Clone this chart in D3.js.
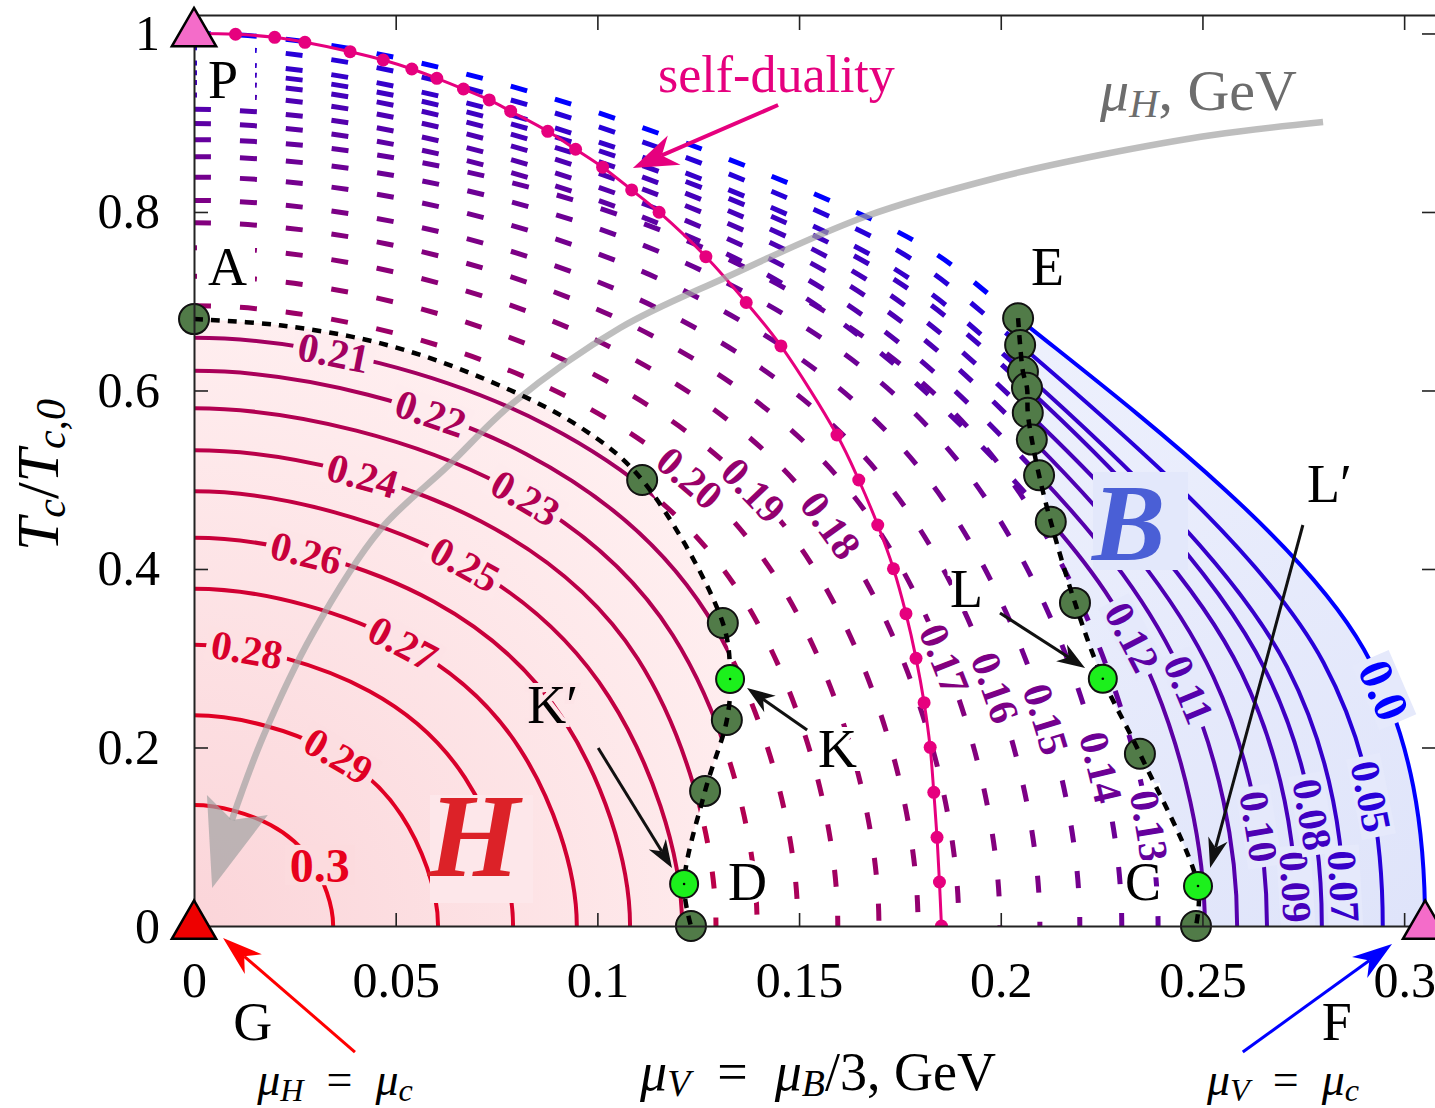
<!DOCTYPE html>
<html>
<head>
<meta charset="utf-8">
<script src="https://cdn.jsdelivr.net/npm/d3@7"></script>
<style>
  body { margin: 0; background: #fff; }
  svg { display: block; }
  text { font-family: "Liberation Serif", "DejaVu Serif", serif; }
</style>
</head>
<body>
<svg id="chart" width="1435" height="1108"></svg>
<script>
// contour levels (mu_H, GeV), innermost H curve first, B edge (0.0) last
const levels = [0.30, 0.29, 0.28, 0.27, 0.26, 0.25, 0.24, 0.23, 0.22, 0.21,
                0.20, 0.19, 0.18, 0.17, 0.16, 0.15, 0.14, 0.13,
                0.12, 0.11, 0.10, 0.09, 0.08, 0.07, 0.05, 0.00];
const levelZone = ["H","H","H","H","H","H","H","H","H","H",
                   "M","M","M","M","M","M","M","M",
                   "B","B","B","B","B","B","B","B"];
// where each contour meets the axes
const muAtT0 = [0.0345, 0.0605, 0.0791, 0.0949, 0.1081, 0.1210, 0.1294, 0.1396, 0.1497, 0.1596,
                0.1698, 0.1795, 0.1896, 0.1998, 0.2097, 0.2196, 0.2300, 0.2390,
                0.2506, 0.2586, 0.2660, 0.2734, 0.2796, 0.2853, 0.2947, 0.3052];
const tAtMu0 = [0.1355, 0.236, 0.315, 0.378, 0.435, 0.487, 0.533, 0.580, 0.622, 0.659,
                0.695, 0.728, 0.760, 0.788, 0.813, 0.839, 0.862, 0.881,
                0.899, 0.915, 0.931, 0.945, 0.956, 0.967, 0.984, 1.000];
// points along each contour (for B curves the lower point is its marker on the E-C line)
const muUpper = [0.0190, 0.0333, 0.0435, 0.0522, 0.0595, 0.0666, 0.0712, 0.0768, 0.0823, 0.0878,
                 0.0934, 0.0987, 0.1043, 0.1099, 0.1153, 0.1208, 0.1265, 0.1315,
                 0.1378, 0.1422, 0.1463, 0.1504, 0.1538, 0.1569, 0.1621, 0.1679];
const tUpper  = [0.1132, 0.1971, 0.2631, 0.3157, 0.3633, 0.4067, 0.4532, 0.4932, 0.5289, 0.5603,
                 0.5910, 0.6190, 0.6462, 0.6700, 0.6913, 0.7134, 0.7330, 0.7491,
                 0.7401, 0.7487, 0.7582, 0.7649, 0.7734, 0.7771, 0.7856, 0.7921];
const muLower = [0.0293, 0.0514, 0.0672, 0.0807, 0.0919, 0.1029, 0.1100, 0.1187, 0.1272, 0.1357,
                 0.1443, 0.1526, 0.1612, 0.1698, 0.1782, 0.1867, 0.1955, 0.2032,
                 0.2124, 0.2095, 0.2077, 0.2067, 0.2065, 0.2055, 0.2048, 0.2043];
const tLower  = [0.0714, 0.1243, 0.1659, 0.1991, 0.2292, 0.2565, 0.2994, 0.3258, 0.3494, 0.3702,
                 0.3904, 0.4089, 0.4269, 0.4426, 0.4567, 0.4713, 0.4842, 0.4949,
                 0.453, 0.505, 0.545, 0.575, 0.603, 0.621, 0.651, 0.681];
const muFoot  = [null, null, null, null, null, null, null, null, null, null,
                 null, null, null, null, null, null, null, null,
                 0.2381, 0.2457, 0.2527, 0.2597, 0.2656, 0.2710, 0.2800, 0.2900];
const tFoot   = [null, null, null, null, null, null, null, null, null, null,
                 null, null, null, null, null, null, null, null,
                 0.2697, 0.2745, 0.2793, 0.2835, 0.2868, 0.2901, 0.2952, 0.3100];

// contour labels
const labelText = ["0.3","0.29","0.28","0.27","0.26","0.25","0.24","0.23","0.22","0.21",
                   "0.20","0.19","0.18","0.17","0.16","0.15","0.14","0.13",
                   "0.12","0.11","0.10","0.09","0.08","0.07","0.05","0.0"];
const labelMu = [0.0312, 0.0362, 0.0131, 0.0515, 0.0279, 0.0684, 0.0420, 0.0829, 0.0589, 0.0344,
                 0.1231, 0.1399, 0.1587, 0.1882, 0.2000, 0.2122, 0.2250, 0.2362,
                 0.2304, 0.2448, 0.2638, 0.2734, 0.2757, 0.2861, 0.2900, 0.2950];
const labelT  = [0.0683, 0.1935, 0.3070, 0.3148, 0.4175, 0.4140, 0.5070, 0.4850, 0.5780, 0.6370,
                 0.5034, 0.4940, 0.4512, 0.3036, 0.2700, 0.2327, 0.1785, 0.1113,
                 0.3186, 0.2607, 0.1113, 0.0440, 0.1244, 0.0440, 0.1430, 0.2650];

// H boundary (A ... D), B boundary (E ... C)
const hEdgeMu = [0, 0.0213, 0.0461, 0.0709, 0.0957, 0.1111, 0.1311, 0.1329, 0.1321, 0.1267, 0.1215, 0.1232];
const hEdgeT  = [0.680, 0.673, 0.653, 0.615, 0.559, 0.4997, 0.3395, 0.2767, 0.2308, 0.1513, 0.0471, 0];
const hEdgeDot = ["dark", "", "", "", "", "dark", "dark", "lime", "dark", "dark", "lime", "dark"];
const bEdgeMu = [0.2043, 0.2048, 0.2055, 0.2065, 0.2067, 0.2077, 0.2095, 0.2124, 0.2184, 0.2253, 0.2345, 0.2489, 0.2484];
const bEdgeT  = [0.681, 0.651, 0.621, 0.603, 0.575, 0.545, 0.505, 0.453, 0.362, 0.277, 0.193, 0.0448, 0];
const bEdgeDot = ["dark","dark","dark","dark","dark","dark","dark","dark","dark","lime","dark","lime","dark"];

// self-duality line
const sdMu = [0, 0.0103, 0.0200, 0.0275, 0.0387, 0.0469, 0.0540, 0.0602, 0.0668, 0.0732, 0.0785, 0.0877,
              0.0946, 0.1013, 0.1085, 0.1153, 0.1269, 0.1369, 0.1455, 0.1594, 0.1648, 0.1695, 0.1734,
              0.1765, 0.1790, 0.1810, 0.1825, 0.1834, 0.1842, 0.1848, 0.1853];
const sdT  = [1.000, 0.9991, 0.9957, 0.9901, 0.9796, 0.9703, 0.9602, 0.9498, 0.9378, 0.9255, 0.9129, 0.8904,
              0.8703, 0.8502, 0.8247, 0.7997, 0.7499, 0.6986, 0.6499, 0.5501, 0.4997, 0.4493, 0.4003,
              0.3499, 0.2999, 0.2502, 0.2002, 0.1498, 0.0994, 0.0493, 0.0];

// grey mu_H arrow
const greyMu = [0.2799, 0.2526, 0.2246, 0.1998, 0.1668, 0.1321, 0.1056, 0.0791, 0.0627, 0.0461, 0.0295, 0.0171, 0.0094];
const greyT  = [0.9008, 0.8863, 0.8639, 0.8392, 0.7955, 0.7272, 0.6700, 0.5860, 0.5143, 0.4437, 0.3283, 0.2118, 0.1188];

// point labels
const ptName = ["P", "A", "E", "K\u2032", "K", "L", "L\u2032", "D", "C", "G", "F"];
const ptMu   = [0.0035, 0.0035, 0.2075, 0.0826, 0.1547, 0.1874, 0.2759, 0.1324, 0.2308, 0.0097, 0.2796];
const ptT    = [0.9277, 0.7182, 0.7182, 0.2275, 0.1782, 0.3574, 0.4751, 0.0291, 0.0291, -0.1277, -0.1277];

const xTicks = [0, 0.05, 0.1, 0.15, 0.2, 0.25, 0.3];
const xTickText = ["0", "0.05", "0.1", "0.15", "0.2", "0.25", "0.3"];
const yTicks = [0, 0.2, 0.4, 0.6, 0.8, 1];
const yTickText = ["0", "0.2", "0.4", "0.6", "0.8", "1"];

const svg = d3.select("#chart");
const plotLeft = 194, plotRight = 1436, plotTop = 15, plotBottom = 926;
const x = d3.scaleLinear().domain([0, 0.3079]).range([plotLeft, plotRight]);
const y = d3.scaleLinear().domain([0, 1.0207]).range([plotBottom, plotTop]);
const colorOf = v => d3.interpolateRgb("#0000ff", "#e8001c")(v / 0.3);
const smooth = d3.line().x(d => x(d[0])).y(d => y(d[1])).curve(d3.curveCatmullRom.alpha(0.5));

function contourPath(i) {
  const inner = [[muUpper[i], tUpper[i]], [muLower[i], tLower[i]]];
  if (muFoot[i] !== null) inner.push([muFoot[i], tFoot[i]]);
  const last = inner[inner.length - 1];
  const pts = [[-muUpper[i], tUpper[i]], [0, tAtMu0[i]], ...inner, [muAtT0[i], 0], [last[0], -last[1]]];
  return smooth(pts);
}

const defs = svg.append("defs");
defs.append("clipPath").attr("id", "plotClip")
  .append("rect").attr("x", plotLeft).attr("y", plotTop)
  .attr("width", plotRight - plotLeft).attr("height", plotBottom - plotTop);

const hEdge = smooth(hEdgeMu.map((m, i) => [m, hEdgeT[i]]));
const hShape = hEdge + `L${x(0)},${y(0)}Z`;
const bEdge = smooth(bEdgeMu.map((m, i) => [m, bEdgeT[i]]));
const bShape = bEdge + `L${x(0.34)},${y(0)}L${x(0.34)},${y(bEdgeT[0])}Z`;

function addZone(id, shape) {
  defs.append("clipPath").attr("id", id + "Clip").append("path").attr("d", shape);
  const m = defs.append("mask").attr("id", id + "Mask").attr("maskUnits", "userSpaceOnUse")
    .attr("x", 0).attr("y", 0).attr("width", 1435).attr("height", 1108);
  m.append("rect").attr("width", 1435).attr("height", 1108).attr("fill", "#fff");
  m.append("path").attr("d", shape).attr("fill", "#000");
}
addZone("h", hShape);
addZone("b", bShape);

const hIn = "#fbd5d9", hOut = "#fff1f2", hR = 680;
const hg = defs.append("radialGradient").attr("id", "hGrad").attr("gradientUnits", "userSpaceOnUse")
  .attr("cx", x(0)).attr("cy", y(0)).attr("r", hR);
hg.append("stop").attr("offset", 0).attr("stop-color", hIn);
hg.append("stop").attr("offset", 1).attr("stop-color", hOut);
const bg = defs.append("linearGradient").attr("id", "bGrad").attr("gradientUnits", "userSpaceOnUse")
  .attr("x1", x(0.3)).attr("y1", y(0)).attr("x2", x(0.2)).attr("y2", y(0.68));
bg.append("stop").attr("offset", 0).attr("stop-color", "#dfe4fa");
bg.append("stop").attr("offset", 1).attr("stop-color", "#eef1fd");

const plot = svg.append("g").attr("clip-path", "url(#plotClip)");

// region fills
plot.append("path").attr("d", hShape).attr("fill", "url(#hGrad)");
plot.append("g").attr("clip-path", "url(#bClip)")
  .append("path").attr("d", contourPath(levels.length - 1) + `L${x(0)},${y(0)}Z`).attr("fill", "url(#bGrad)");

// contours
const contourG = plot.append("g").attr("fill", "none");
const guideNodes = [];
levels.forEach((lv, i) => {
  const d = contourPath(i);
  const col = colorOf(lv);
  const zone = levelZone[i];
  const guide = contourG.append("path").attr("d", d).attr("stroke", "none");
  guideNodes.push(guide.node());
  // dash phase starts at the T axis
  const node = guide.node();
  let lo = 0, hi = node.getTotalLength();
  for (let k = 0; k < 30; k++) {
    const mid = (lo + hi) / 2;
    if (node.getPointAtLength(mid).x < plotLeft) lo = mid; else hi = mid;
  }
  const dashed = contourG.append("path").attr("d", d).attr("stroke", col)
    .attr("stroke-width", 5).attr("stroke-dasharray", "17 29").attr("stroke-dashoffset", -lo);
  if (zone !== "M") {
    dashed.attr("mask", `url(#${zone.toLowerCase()}Mask)`);
    contourG.append("path").attr("d", d).attr("stroke", col).attr("stroke-width", 4)
      .attr("clip-path", `url(#${zone.toLowerCase()}Clip)`);
  }
});

// boxes behind big H and B letters
plot.append("rect").attr("x", 430).attr("y", 795).attr("width", 103).attr("height", 108).attr("fill", "#fde7ea");
plot.append("rect").attr("x", 1093).attr("y", 472).attr("width", 95).attr("height", 98).attr("fill", "#e3e8fb");
plot.append("text").attr("x", 428).attr("y", 876).attr("font-size", 118).attr("font-weight", "bold")
  .attr("font-style", "italic").attr("fill", "#dc2228").text("H");
plot.append("text").attr("x", 1092).attr("y", 560).attr("font-size", 110).attr("font-weight", "bold")
  .attr("font-style", "italic").attr("fill", "#4a5fd6").text("B");

// contour labels, snapped onto their curve and turned along it
function boxColor(zone, px, py) {
  if (zone === "M") return "#ffffff";
  if (zone === "B") return "#e5e9fb";
  const r = Math.hypot(px - x(0), py - y(0)) / hR;
  return d3.interpolateRgb(hIn, hOut)(Math.min(1, r));
}
labelText.forEach((t, i) => {
  const px = x(labelMu[i]), py = y(labelT[i]);
  let ang = 0, lx = px, ly = py;
  if (t !== "0.3") {
    const node = guideNodes[i];
    const total = node.getTotalLength();
    let best = 0, bestD = Infinity;
    for (let s = 0; s <= total; s += 1.5) {
      const p = node.getPointAtLength(s);
      const dd = (p.x - px) ** 2 + (p.y - py) ** 2;
      if (dd < bestD) { bestD = dd; best = s; }
    }
    const p = node.getPointAtLength(best);
    const p1 = node.getPointAtLength(Math.max(0, best - 4));
    const p2 = node.getPointAtLength(Math.min(total, best + 4));
    ang = Math.atan2(p2.y - p1.y, p2.x - p1.x) * 180 / Math.PI;
    if (ang > 90) ang -= 180;
    if (ang < -90) ang += 180;
    lx = p.x; ly = p.y;
  }
  const size = (t === "0.3" || t === "0.0") ? 48 : 41;
  const g = plot.append("g").attr("transform", `translate(${lx},${ly}) rotate(${ang})`);
  const box = g.append("rect").attr("fill", boxColor(levelZone[i], lx, ly));
  const txt = g.append("text")
    .attr("text-anchor", "middle").attr("dominant-baseline", "central")
    .attr("font-size", size).attr("font-weight", "bold")
    .attr("fill", colorOf(levels[i])).text(t);
  const w = txt.node().getComputedTextLength();
  box.attr("x", -w / 2 - 5).attr("y", -size * 0.42).attr("width", w + 10).attr("height", size * 0.84);
});

// white boxes around P and A
plot.append("rect").attr("x", 197).attr("y", 45).attr("width", 58).attr("height", 56).attr("fill", "#fff");
plot.append("rect").attr("x", 197).attr("y", 233).attr("width", 58).attr("height", 58).attr("fill", "#fff");

// self-duality line
const sdPts = sdMu.map((m, i) => [m, sdT[i]]);
plot.append("path").attr("d", smooth(sdPts)).attr("fill", "none").attr("stroke", "#e6007e").attr("stroke-width", 3);
plot.selectAll(".sd").data(sdPts.slice(1)).enter().append("circle")
  .attr("cx", d => x(d[0])).attr("cy", d => y(d[1])).attr("r", 6.5).attr("fill", "#e6007e");

// grey mu_H arrow
const greyPts = greyMu.map((m, i) => [m, greyT[i]]);
plot.append("path").attr("d", smooth(greyPts)).attr("fill", "none")
  .attr("stroke", "#a2a2a2").attr("stroke-opacity", 0.7).attr("stroke-width", 6.5);
const greyHead = [[0.0094, 0.1188], [0.0032, 0.1468], [0.0045, 0.0426], [0.0183, 0.1244]];
plot.append("path").attr("d", "M" + greyHead.map(d => `${x(d[0])},${y(d[1])}`).join("L") + "Z")
  .attr("fill", "#a2a2a2").attr("fill-opacity", 0.7);

// phase boundaries with markers
function boundary(mu, t, dots) {
  const pts = mu.map((m, i) => [m, t[i]]);
  svg.selectAll(null).data(pts.filter((d, i) => dots[i] === "dark")).enter().append("circle")
    .attr("cx", d => x(d[0])).attr("cy", d => y(d[1])).attr("r", 15)
    .attr("fill", "#517b48").attr("stroke", "#111").attr("stroke-width", 2);
  svg.append("path").attr("d", smooth(pts)).attr("fill", "none").attr("stroke", "#000")
    .attr("stroke-width", 4.5).attr("stroke-dasharray", "9 8");
  const lime = pts.filter((d, i) => dots[i] === "lime");
  svg.selectAll(null).data(lime).enter().append("circle")
    .attr("cx", d => x(d[0])).attr("cy", d => y(d[1])).attr("r", 14)
    .attr("fill", "#1cf01c").attr("stroke", "#111").attr("stroke-width", 2);
  svg.selectAll(null).data(lime).enter().append("circle")
    .attr("cx", d => x(d[0])).attr("cy", d => y(d[1])).attr("r", 1.3).attr("fill", "#000");
}
boundary(hEdgeMu, hEdgeT, hEdgeDot);
boundary(bEdgeMu, bEdgeT, bEdgeDot);

// axes
const axisFont = g => g.attr("font-family", "Liberation Serif, DejaVu Serif, serif").attr("font-size", 50)
  .call(s => s.select(".domain").attr("stroke", "#222").attr("stroke-width", 2))
  .call(s => s.selectAll(".tick line").attr("stroke", "#222").attr("stroke-width", 1.6))
  .call(s => s.selectAll(".tick text").attr("fill", "#000"));
svg.append("g").attr("transform", `translate(0,${plotBottom})`)
  .call(d3.axisBottom(x).tickValues(xTicks).tickFormat((d, i) => xTickText[i]).tickSizeInner(-13).tickSizeOuter(0).tickPadding(35))
  .call(axisFont);
svg.append("g").attr("transform", `translate(${plotLeft},0)`)
  .call(d3.axisLeft(y).tickValues(yTicks).tickFormat((d, i) => yTickText[i]).tickSizeInner(-14).tickSizeOuter(0).tickPadding(34))
  .call(axisFont);
svg.append("g").attr("transform", `translate(0,${plotTop})`)
  .call(d3.axisTop(x).tickValues(xTicks).tickFormat("").tickSizeInner(-15).tickSizeOuter(0))
  .call(axisFont);
svg.append("g").attr("transform", `translate(${plotRight},0)`)
  .call(d3.axisRight(y).tickValues(yTicks).tickFormat("").tickSizeInner(-14).tickSizeOuter(0))
  .call(axisFont);

// triangles P, G, F
const tri = d3.symbol().type(d3.symbolTriangle).size(850);
[[0, 1, "#f46cc9"], [0, 0, "#ee0000"], [0.3052, 0, "#f46cc9"]].forEach(d => {
  svg.append("path").attr("d", tri()).attr("transform", `translate(${x(d[0])},${y(d[1])})`)
    .attr("fill", d[2]).attr("stroke", "#000").attr("stroke-width", 2.5);
});

// point labels
ptName.forEach((n, i) => {
  const halo = n === "K\u2032" ? "#fde4e7" : "#fff";
  svg.append("text").attr("x", x(ptMu[i])).attr("y", y(ptT[i])).attr("font-size", 54)
    .attr("fill", "#000").attr("stroke", (n === "P" || n === "A") ? "none" : halo)
    .attr("stroke-width", 8).attr("paint-order", "stroke").text(n);
});

// arrows
function arrow(from, to, color, width, len, half) {
  const x1 = x(from[0]), y1 = y(from[1]), x2 = x(to[0]), y2 = y(to[1]);
  const a = Math.atan2(y2 - y1, x2 - x1), c = Math.cos(a), s = Math.sin(a);
  const bx = x2 - len * c, by = y2 - len * s;
  const nx = x2 - len * 0.7 * c, ny = y2 - len * 0.7 * s;
  svg.append("line").attr("x1", x1).attr("y1", y1).attr("x2", nx).attr("y2", ny)
    .attr("stroke", color).attr("stroke-width", width);
  svg.append("path").attr("d", `M${x2},${y2}L${bx - half * s},${by + half * c}L${nx},${ny}L${bx + half * s},${by - half * c}Z`)
    .attr("fill", color);
}
arrow([0.1002, 0.1994], [0.1185, 0.0650], "#111", 3, 28, 10);
arrow([0.1520, 0.2196], [0.1371, 0.2667], "#111", 3, 28, 10);
arrow([0.1998, 0.3507], [0.2209, 0.2891], "#111", 3, 28, 10);
arrow([0.2749, 0.4493], [0.2519, 0.0650], "#111", 3, 30, 10);
arrow([0.1448, 0.9199], [0.1088, 0.8493], "#e6007e", 4, 45, 16);
arrow([0.0399, -0.1412], [0.0072, -0.0134], "#ff0000", 3, 40, 13);
arrow([0.2600, -0.1412], [0.2970, -0.0202], "#0000ff", 3, 40, 13);

// rich text helper with italic / subscript pieces
function rich(sel, parts, size) {
  let shifted = 0;
  parts.forEach(p => {
    const ts = sel.append("tspan").text(p.t);
    if (p.it) ts.attr("font-style", "italic");
    const want = p.sub ? size * 0.12 : 0;
    if (want !== shifted) { ts.attr("dy", want - shifted); shifted = want; }
    if (p.sub) ts.attr("font-size", size * 0.7);
  });
}
const eq = "\u2002=\u2002";

svg.append("text").attr("x", 658).attr("y", 92).attr("font-size", 52).attr("fill", "#e6007e").text("self-duality");
rich(svg.append("text").attr("x", 1100).attr("y", 110).attr("font-size", 58).attr("fill", "#6d6d6d"),
  [{ t: "\u03bc", it: true }, { t: "H", it: true, sub: true }, { t: ", GeV" }], 58);

rich(svg.append("text").attr("x", 818).attr("y", 1090).attr("font-size", 54).attr("text-anchor", "middle"),
  [{ t: "\u03bc", it: true }, { t: "V", it: true, sub: true }, { t: eq }, { t: "\u03bc", it: true },
   { t: "B", it: true, sub: true }, { t: "/3, GeV" }], 54);
rich(svg.append("text").attr("x", 335).attr("y", 1095).attr("font-size", 46).attr("text-anchor", "middle"),
  [{ t: "\u03bc", it: true }, { t: "H", it: true, sub: true }, { t: eq }, { t: "\u03bc", it: true },
   { t: "c", it: true, sub: true }], 46);
rich(svg.append("text").attr("x", 1283).attr("y", 1095).attr("font-size", 46).attr("text-anchor", "middle"),
  [{ t: "\u03bc", it: true }, { t: "V", it: true, sub: true }, { t: eq }, { t: "\u03bc", it: true },
   { t: "c", it: true, sub: true }], 46);
rich(svg.append("text").attr("transform", "translate(58,475) rotate(-90)").attr("font-size", 60).attr("text-anchor", "middle"),
  [{ t: "T", it: true }, { t: "c", it: true, sub: true }, { t: "/" }, { t: "T", it: true }, { t: "c,0", it: true, sub: true }], 60);
</script>
</body>
</html>
